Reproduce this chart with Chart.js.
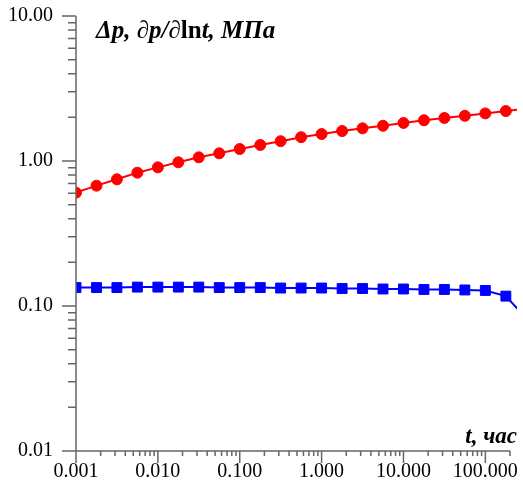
<!DOCTYPE html>
<html>
<head>
<meta charset="utf-8">
<script src="https://cdn.jsdelivr.net/npm/chart.js@4.4.1/dist/chart.umd.min.js"></script>
<style>
  html, body { margin: 0; padding: 0; background: #fff; }
  #wrap { width: 523px; height: 497px; }
</style>
</head>
<body>
<div id="wrap"><canvas id="chart"></canvas></div>
<script>
// time, hours
const times = [0.001, 0.00178, 0.00316, 0.00562, 0.01, 0.0178, 0.0316, 0.0562, 0.1, 0.178, 0.316, 0.562,
  1, 1.78, 3.16, 5.62, 10, 17.8, 31.6, 56.2, 100, 178, 316];
// delta p, MPa
const deltaP = [0.605, 0.676, 0.748, 0.831, 0.904, 0.98, 1.06, 1.13, 1.21, 1.29, 1.37, 1.46,
  1.535, 1.61, 1.68, 1.75, 1.83, 1.91, 1.98, 2.05, 2.13, 2.21, 2.29];
// derivative dp/dln t, MPa
const derivP = [0.134, 0.134, 0.134, 0.135, 0.135, 0.135, 0.135, 0.134, 0.134, 0.134, 0.133, 0.133,
  0.133, 0.132, 0.132, 0.131, 0.131, 0.130, 0.130, 0.129, 0.128, 0.117, 0.082];

const xTicks = [0.001, 0.01, 0.1, 1, 10, 100];
const yTicks = [0.01, 0.1, 1, 10];
const xLabels = ['0.001', '0.010', '0.100', '1.000', '10.000', '100.000'];
const yLabels = ['0.01', '0.10', '1.00', '10.00'];

const serif = "'Liberation Serif'";
const axisColor = '#666';

// no extra padding from labels, chart area set by layout padding only
function noPad(s) {
  s.paddingTop = 0; s.paddingBottom = 0; s.paddingLeft = 0; s.paddingRight = 0;
}

// axes, tick marks and titles
const decorPlugin = {
  id: 'decor',
  afterDraw(chart) {
    const ctx = chart.ctx;
    const xs = chart.scales.x, ys = chart.scales.y;
    const a = chart.chartArea;
    ctx.save();
    ctx.strokeStyle = axisColor;
    ctx.lineWidth = 1.5;
    ctx.beginPath();
    // axis lines
    ctx.moveTo(a.left, a.top);
    ctx.lineTo(a.left, a.bottom + 12);
    ctx.moveTo(a.left - 14, a.bottom);
    ctx.lineTo(a.right, a.bottom);
    // x ticks
    xTicks.forEach(d => {
      for (let m = 1; m <= 9; m++) {
        const v = d * m;
        if (v > xs.max) break;
        const px = xs.getPixelForValue(v);
        ctx.moveTo(px, a.bottom);
        ctx.lineTo(px, a.bottom + (m === 1 ? 12 : 5));
      }
    });
    // y ticks
    yTicks.forEach(d => {
      for (let m = 1; m <= 9; m++) {
        const v = d * m;
        if (v > ys.max) break;
        const py = ys.getPixelForValue(v);
        ctx.moveTo(a.left, py);
        ctx.lineTo(a.left - (m === 1 ? 14 : 8), py);
      }
    });
    ctx.stroke();

    // titles
    ctx.fillStyle = '#000';
    ctx.textBaseline = 'alphabetic';
    const parts = [
      ['Δp, ∂p/∂', 'italic bold 25px ' + serif],
      ['ln', 'bold 25px ' + serif],
      ['t, МПа', 'italic bold 25px ' + serif]
    ];
    let x = 96;
    parts.forEach(([txt, font]) => {
      ctx.font = font;
      ctx.textAlign = 'left';
      ctx.fillText(txt, x, 38);
      x += ctx.measureText(txt).width;
    });
    ctx.font = 'italic bold 23px ' + serif;
    ctx.textAlign = 'right';
    ctx.fillText('t, час', 517, 443);
    ctx.restore();
  }
};

const ctx = document.getElementById('chart').getContext('2d');
new Chart(ctx, {
  type: 'line',
  data: {
    datasets: [{
      label: 'Δp',
      data: times.map((t, i) => ({ x: t, y: deltaP[i] })),
      borderColor: '#ff0000',
      backgroundColor: '#ff0000',
      borderWidth: 2,
      pointStyle: 'circle',
      pointRadius: 5.5,
      pointBorderWidth: 1,
      clip: { left: 0, top: 0, right: 7, bottom: 0 }
    }, {
      label: '∂p/∂lnt',
      data: times.map((t, i) => ({ x: t, y: derivP[i] })),
      borderColor: '#0000ff',
      backgroundColor: '#0000ff',
      borderWidth: 2,
      pointStyle: 'rect',
      pointRadius: 7,
      pointBorderWidth: 1,
      clip: { left: 0, top: 0, right: 7, bottom: 0 }
    }]
  },
  options: {
    responsive: true,
    maintainAspectRatio: false,
    animation: false,
    layout: { padding: { top: 16, right: 13, left: 0, bottom: 0 } },
    plugins: {
      legend: { display: false },
      tooltip: { enabled: false }
    },
    scales: {
      x: {
        type: 'logarithmic',
        min: 0.001,
        max: 200,
        grid: { display: false, drawTicks: false },
        border: { display: false },
        afterBuildTicks: s => { s.ticks = xTicks.map(v => ({ value: v })); },
        afterFit: s => { s.height = 46; noPad(s); },
        ticks: {
          autoSkip: false,
          maxRotation: 0,
          padding: 9,
          color: '#000',
          font: { family: serif, size: 20 },
          callback: (v, i) => xLabels[i]
        }
      },
      y: {
        type: 'logarithmic',
        min: 0.01,
        max: 10,
        grid: { display: false, drawTicks: false },
        border: { display: false },
        afterBuildTicks: s => { s.ticks = yTicks.map(v => ({ value: v })); },
        afterFit: s => { s.width = 76; noPad(s); },
        ticks: {
          autoSkip: false,
          padding: 23,
          color: '#000',
          font: { family: serif, size: 20 },
          callback: (v, i) => yLabels[i]
        }
      }
    }
  },
  plugins: [decorPlugin]
});
</script>
</body>
</html>
